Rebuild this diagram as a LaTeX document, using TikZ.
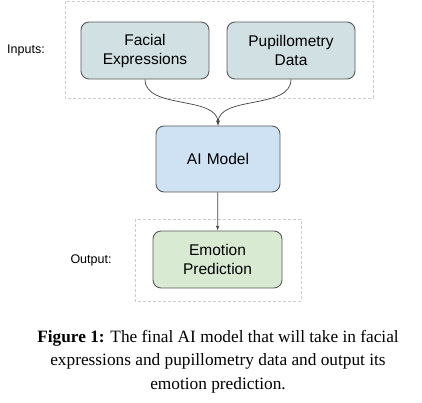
\documentclass[tikz,border=0pt]{standalone}
\usepackage{fontspec}
\setmainfont{Liberation Serif}
\setsansfont{Liberation Sans}
\usepackage{tikz}
\usetikzlibrary{positioning}
\usetikzlibrary{arrows}

\definecolor{inputfill}{HTML}{D0E0E3}
\definecolor{modelfill}{HTML}{CFE2F3}
\definecolor{outputfill}{HTML}{D9EAD3}
\definecolor{boxline}{HTML}{595959}
\definecolor{frameline}{HTML}{CCCCCC}

\tikzset{
	block/.style={rectangle, draw=boxline, line width=0.9pt, rounded corners=8pt, align=center, text width=3.4cm, minimum height=57pt, font=\sffamily\fontsize{15.5}{19}\selectfont, inner sep=0pt},
	frame/.style={draw=frameline, dash pattern=on 3pt off 2pt, line width=0.6pt},
	tag/.style={font=\sffamily\fontsize{12.5}{15}\selectfont},
	link/.style={draw=black!75, line width=0.7pt, -latex', >=latex}
}

\begin{document}
\begin{tikzpicture}[x=1pt, y=-1pt]
		\useasboundingbox (0,0) rectangle (422,402);
		
		\node[block, fill=modelfill, minimum width=124pt, minimum height=66pt, text width=120pt] (model) at (218,159) {AI Model};
		
		\node[block, fill=inputfill, minimum width=128pt, text width=124pt] (facial) at (145,50.5) {Facial\\Expressions};
		
		\node[block, fill=inputfill, minimum width=128pt, text width=124pt] (pupil) at (291,50.5) {Pupillometry\\Data};
		
		\node[block, fill=outputfill, minimum width=129pt, text width=125pt] (emotion) at (217.5,259.5) {Emotion\\Prediction};
		
		\draw[frame] (65,1) rectangle (373,98);
		\draw[frame] (135,219) rectangle (301,301);
		
		\node[tag] (inputs) at (26,50) {Inputs:};
		\node[tag] (output) at (91,260) {Output:};
		
		\node[align=center, font=\fontsize{17.3}{23.7}\selectfont] (caption) at (218,361.5) {\textbf{Figure 1:} The final AI model that will take in facial\\expressions and pupillometry data and output its\\emotion prediction.};
		
		\path [link] (facial.south) to[out=-90, in=90, looseness=0.9] (model.north);
		\path [link] (pupil.south) to[out=-90, in=90, looseness=0.9] (model.north);
		\path [link] (model) -- (emotion);
	\end{tikzpicture}
\end{document}
